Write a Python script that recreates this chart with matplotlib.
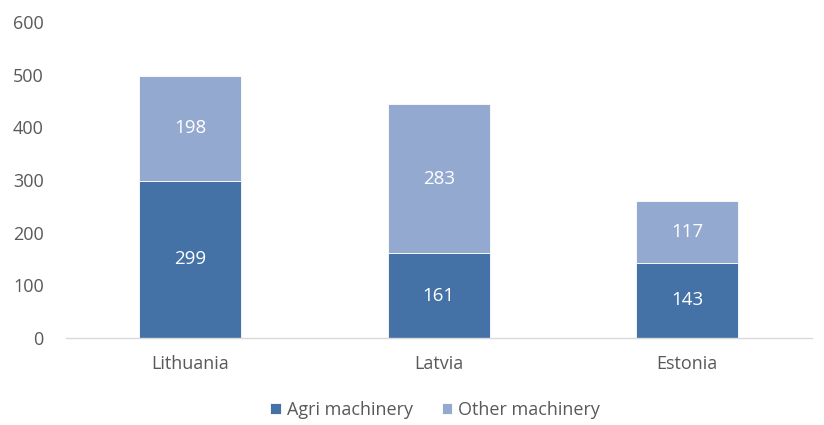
import matplotlib.pyplot as plt
import numpy as np

countries = ["Lithuania", "Latvia", "Estonia"]
agri = [299, 161, 143]
other = [198, 283, 117]
yticks = [0, 100, 200, 300, 400, 500, 600]

dark = "#4472a6"
light = "#94a9d0"
txt = "#595959"

plt.rcParams['font.family'] = ['Open Sans', 'DejaVu Sans']

fig = plt.figure(figsize=(8.24, 4.25), dpi=100)
ax = fig.add_axes([0.080, 0.205, 0.905, 0.743])

x = np.arange(len(countries))
w = 0.41
b1 = ax.bar(x, agri, w, color=dark, edgecolor="white", linewidth=0.6, label="Agri machinery")
b2 = ax.bar(x, other, w, bottom=agri, color=light, edgecolor="white", linewidth=0.6, label="Other machinery")

for i in range(len(x)):
    ax.text(x[i], agri[i] / 2, str(agri[i]), ha="center", va="center", color="white", fontsize=13.5)
    ax.text(x[i], agri[i] + other[i] / 2, str(other[i]), ha="center", va="center", color="white", fontsize=13.5)

ax.set_xlim(-0.5, 2.5)
ax.set_ylim(0, 600)
ax.set_yticks(yticks)
ax.set_xticks(x, countries)
ax.tick_params(axis="both", length=0, labelsize=13, labelcolor=txt)
ax.tick_params(axis="x", pad=12)
ax.tick_params(axis="y", pad=16)
for s in ["top", "right", "left"]:
    ax.spines[s].set_visible(False)
ax.spines["bottom"].set_color("#d9d9d9")
ax.spines["bottom"].set_linewidth(1)

fig.legend(handles=[b1, b2], loc="center", bbox_to_anchor=(0.528, 0.035), ncol=2, frameon=False,
           fontsize=13, labelcolor=txt, handlelength=0.6, handleheight=0.6, handletextpad=0.3,
           columnspacing=1.6)

fig.savefig("out.png", dpi=100)
